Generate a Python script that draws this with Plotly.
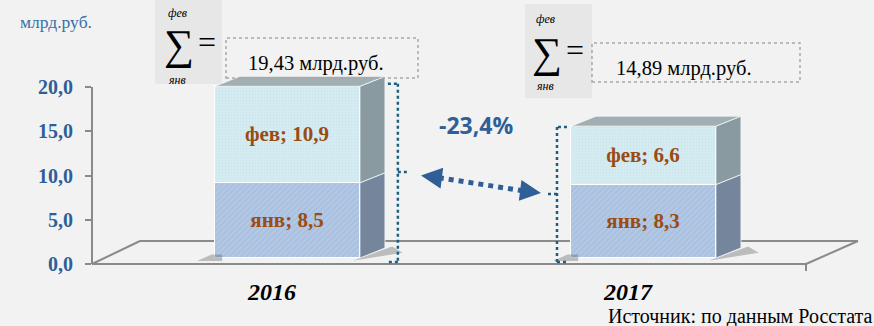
import plotly.graph_objects as go

# ---- data ----
categories = ["2016", "2017"]
jan = [8.5, 8.3]
feb = [10.9, 6.6]
totals = [19.43, 14.89]
month_jan = "янв"
month_feb = "фев"
ytick_vals = [0, 5, 10, 15, 20]
ytick_text = ["0,0", "5,0", "10,0", "15,0", "20,0"]

def fmt(v, d=1):
    return f"{v:.{d}f}".replace(".", ",")

# ---- geometry (pixel layout) ----
W, H = 874, 326
L, R, T, B = 92, 860, 60, 280
SY = 8.85            # px per y unit
XU = 356.0           # px per x unit
X0PX = 287.5         # px of first category centre
BAR0 = 258           # px of bar base
AX0 = 264            # px of axis zero

def px(xp): return (xp - L) / (R - L)
def py(yp): return (B - yp) / (B - T)

xpos = list(range(len(categories)))
bw = 0.407
h = bw / 2
dx = 25 / XU
dy = 10 / SY

serif = "Liberation Serif"
blue = "#2f5f96"
brown = "#9a4c12"

fig = go.Figure()

# 3D side and top faces (derived from data)
for c, j, f in zip(xpos, jan, feb):
    # shadows
    fig.add_trace(go.Scatter(
        x=[c - h - 0.05, c - h + 0.02, c - h + 0.02, c - h - 0.01, c - h - 0.05],
        y=[-0.35, -0.35, 0.4, 0.4, -0.35],
        fill="toself", fillcolor="rgba(90,90,90,0.35)", mode="lines",
        line=dict(width=0), hoverinfo="skip", showlegend=False))
    fig.add_trace(go.Scatter(
        x=[c + h - 0.02, c + h + dx + 0.05, c + h + dx + 0.02, c + h - 0.02],
        y=[-0.3, 0.6, 1.3, -0.3],
        fill="toself", fillcolor="rgba(90,90,90,0.35)", mode="lines",
        line=dict(width=0), hoverinfo="skip", showlegend=False))
    segs = [(0, j, "#74859c"), (j, j + f, "#8a9aa1")]
    for lo, hi, col in segs:
        fig.add_trace(go.Scatter(
            x=[c + h, c + h + dx, c + h + dx, c + h, c + h],
            y=[lo, lo + dy, hi + dy, hi, lo],
            fill="toself", fillcolor=col, mode="lines",
            line=dict(width=0.8, color="#f4f8fa"), hoverinfo="skip", showlegend=False))
    top = j + f
    fig.add_trace(go.Scatter(
        x=[c - h, c + h, c + h + dx, c - h + dx, c - h],
        y=[top, top, top + dy, top + dy, top],
        fill="toself", fillcolor="#a1afb3", mode="lines",
        line=dict(width=0.8, color="#f4f8fa"), hoverinfo="skip", showlegend=False))

fig.add_trace(go.Bar(
    x=xpos, y=jan, width=bw, name=month_jan,
    marker=dict(color="#b3c8e4", line=dict(color="#ffffff", width=1),
                pattern=dict(shape="/", size=4, solidity=0.35, fgcolor="#98b2d6")),
    text=[f"<b>{month_jan}; {fmt(v)}</b>" for v in jan],
    textposition="inside", insidetextanchor="middle",
    textfont=dict(family=serif, size=21, color=brown),
    hoverinfo="skip", showlegend=False))
fig.add_trace(go.Bar(
    x=xpos, y=feb, width=bw, name=month_feb,
    marker=dict(color="#d4ebf1", line=dict(color="#ffffff", width=1),
                pattern=dict(shape=".", size=3, solidity=0.2, fgcolor="#bddde7")),
    text=[f"<b>{month_feb}; {fmt(v)}</b>" for v in feb],
    textposition="inside", insidetextanchor="middle",
    textfont=dict(family=serif, size=21, color=brown),
    hoverinfo="skip", showlegend=False))

# invisible trace to activate y2
fig.add_trace(go.Scatter(x=[0], y=[0], yaxis="y2", mode="markers",
                         marker=dict(opacity=0), hoverinfo="skip", showlegend=False))

shapes = []
grey = "#8a8a8a"
# floor
floor = [(92, AX0), (140, 241), (858, 241), (806, AX0), (92, AX0)]
for (x1, y1), (x2, y2) in zip(floor[:-1], floor[1:]):
    shapes.append(dict(type="line", xref="paper", yref="paper", x0=px(x1), y0=py(y1),
                       x1=px(x2), y1=py(y2), line=dict(color=grey, width=2), layer="below"))
shapes.append(dict(type="line", xref="paper", yref="paper", x0=px(806), y0=py(AX0),
                   x1=px(806), y1=py(271), line=dict(color=grey, width=2), layer="below"))
# y axis line
shapes.append(dict(type="line", xref="paper", yref="y2", x0=0, x1=0, y0=0, y1=max(ytick_vals),
                   line=dict(color=grey, width=2)))

# brackets
teal = "#1c5f80"
bx = [0.282, 0.310, 0.338]
t0 = totals[0]
for (xa, ya, xb, yb) in [(bx[0], t0 + 0.25, bx[1], t0 + 0.25), (bx[1], t0 + 0.25, bx[1], -0.45),
                         (bx[1], -0.45, bx[0], -0.45), (bx[1], t0 / 2, bx[2], t0 / 2)]:
    shapes.append(dict(type="line", xref="x", yref="y", x0=xa, y0=ya, x1=xb, y1=yb,
                       line=dict(color=teal, width=2.5, dash="dot")))
b2 = [0.785, 0.757, 0.729]
t1 = totals[1]
for (xa, ya, xb, yb) in [(b2[0], t1 - 0.1, b2[1], t1 - 0.1), (b2[1], t1 - 0.1, b2[1], -0.45),
                         (b2[1], -0.45, b2[0], -0.45), (b2[1], t1 / 2 - 0.2, b2[2], t1 / 2 - 0.2)]:
    shapes.append(dict(type="line", xref="x", yref="y", x0=xa, y0=ya, x1=xb, y1=yb,
                       line=dict(color=teal, width=2.5, dash="dot")))

# dotted arrow
ax_l, ay_l = 0.375, t0 / 2 - 0.4
ax_r, ay_r = 0.712, t1 / 2 - 0.1
shapes.append(dict(type="line", xref="x", yref="y", x0=ax_l + 0.05, y0=ay_l - 0.25,
                   x1=ax_r - 0.05, y1=ay_r + 0.25, line=dict(color=blue, width=5, dash="dot")))

# sigma backgrounds
for (x1, y1, x2, y2) in [(155, 0, 222, 84), (525, 4, 592, 98)]:
    shapes.append(dict(type="rect", xref="paper", yref="paper", x0=px(x1), x1=px(x2),
                       y0=py(y2), y1=py(y1), fillcolor="#e7e7e7", line=dict(width=0), layer="below"))
# value boxes
for (x1, y1, x2, y2) in [(226, 38, 418, 78), (592, 43, 800, 82)]:
    shapes.append(dict(type="rect", xref="paper", yref="paper", x0=px(x1), x1=px(x2),
                       y0=py(y2), y1=py(y1), fillcolor="rgba(0,0,0,0)",
                       line=dict(color="#a8a8a8", width=1.5, dash="dot")))

ann = []
def A(text, xp, yp, size, color="#000000", family=serif, xanchor="center", **kw):
    ann.append(dict(text=text, x=px(xp), y=py(yp), xref="paper", yref="paper",
                    showarrow=False, xanchor=xanchor, yanchor="middle",
                    font=dict(family=family, size=size, color=color), **kw))

A("млрд.руб.", 56, 22, 17.5, color="#3a70a8")
# sigma blocks
for (sx, sy, ex, fy, jy, box_cx, box_cy, tot) in [
        (179, 45, 207, 13, 80, 316, 63, totals[0]),
        (547, 53, 575, 19, 86, 684, 68, totals[1])]:
    A("∑", sx, sy, 42)
    A("=", ex, sy - 3, 32)
    A(f"<i>{month_feb}</i>", sx - 2, fy, 12)
    A(f"<i>{month_jan}</i>", sx - 2, jy, 12)
    A(f"{fmt(tot, 2)} млрд.руб.", box_cx, box_cy, 20.5)

pct = (totals[1] / totals[0] - 1) * 100
ann.append(dict(text=f"<b>{fmt(pct)}%</b>", x=0.53, y=15.0, xref="x", yref="y",
                showarrow=False, font=dict(family="Open Sans", size=23, color=blue)))

# arrow heads
ann.append(dict(x=ax_l, y=ay_l, ax=ax_l + 0.06, ay=ay_l - 0.3, xref="x", yref="y",
                axref="x", ayref="y", text="", showarrow=True, arrowhead=2,
                arrowsize=1.4, arrowwidth=3, arrowcolor=blue))
ann.append(dict(x=ax_r, y=ay_r, ax=ax_r - 0.06, ay=ay_r + 0.3, xref="x", yref="y",
                axref="x", ayref="y", text="", showarrow=True, arrowhead=2,
                arrowsize=1.4, arrowwidth=3, arrowcolor=blue))

# category labels
for c, lab in zip(xpos, categories):
    ann.append(dict(text=f"<b><i>{lab}</i></b>", x=c, y=py(292), xref="x", yref="paper",
                    xshift=-16, showarrow=False, yanchor="middle",
                    font=dict(family=serif, size=24, color="#000000")))

A("Источник: по данным Росстата", 874, 316.5, 20, xanchor="right")

fig.update_layout(
    width=W, height=H,
    margin=dict(l=L, r=W - R, t=T, b=H - B),
    paper_bgcolor="#f2f2f2", plot_bgcolor="rgba(0,0,0,0)",
    barmode="stack", bargap=0,
    xaxis=dict(range=[-(X0PX - L) / XU, (R - X0PX) / XU], visible=False, fixedrange=True),
    yaxis=dict(range=[-(B - BAR0) / SY, (BAR0 - T) / SY], visible=False, fixedrange=True),
    yaxis2=dict(range=[-(B - AX0) / SY, (AX0 - T) / SY], overlaying="y", side="left",
                tickvals=ytick_vals, ticktext=[f"<b>{t}</b>" for t in ytick_text],
                ticks="outside", ticklen=6, tickwidth=2, tickcolor=grey,
                ticklabelstandoff=8,
                tickfont=dict(family=serif, size=20, color=blue),
                showgrid=False, zeroline=False, showline=False, fixedrange=True),
    shapes=shapes, annotations=ann,
)

fig.write_html("out.html", config={"displayModeBar": False},
               post_script="document.body.style.margin='0';document.body.style.background='#f2f2f2';")
